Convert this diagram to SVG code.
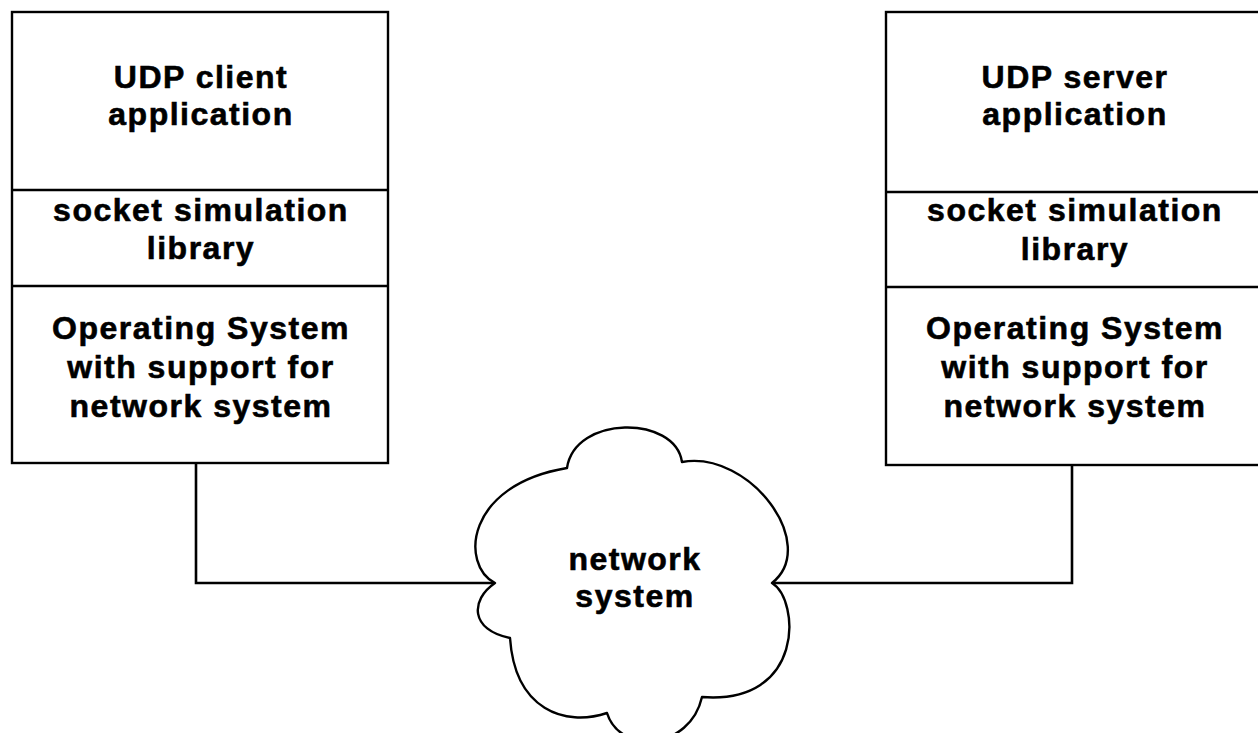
<svg xmlns="http://www.w3.org/2000/svg" width="1258" height="733" viewBox="0 0 1258 733">
  <style>
    .box { fill: #fff; stroke: #000; stroke-width: 2.4; }
    .div { stroke: #000; stroke-width: 2.4; fill: none; }
    .conn { stroke: #000; stroke-width: 2.6; fill: none; }
    .cloud { fill: #fff; stroke: #000; stroke-width: 2.4; stroke-linejoin: round; }
    text { font-family: "Liberation Sans", Arial, Helvetica, sans-serif; font-weight: bold; font-size: 32px; letter-spacing: 1.5px; text-anchor: middle; fill: #000; stroke: #000; stroke-width: 0.6; }
  </style>
  <rect width="1258" height="733" fill="#fff"/>

  <g id="connectors">
    <polyline class="conn" points="196,463 196,583 495,583"/>
    <polyline class="conn" points="1072,465 1072,583 772,583"/>
  </g>

  <g id="client">
    <rect class="box" x="12" y="12" width="376" height="451"/>
    <line class="div" x1="12" y1="190" x2="388" y2="190"/>
    <line class="div" x1="12" y1="286" x2="388" y2="286"/>
    <text x="201" y="88">UDP client</text>
    <text x="201" y="125">application</text>
    <text x="201" y="221">socket simulation</text>
    <text x="201" y="259">library</text>
    <text x="201" y="339">Operating System</text>
    <text x="201" y="378">with support for</text>
    <text x="201" y="417">network system</text>
  </g>

  <g id="server">
    <rect class="box" x="886" y="12" width="376" height="453"/>
    <line class="div" x1="886" y1="192" x2="1262" y2="192"/>
    <line class="div" x1="886" y1="287" x2="1262" y2="287"/>
    <text x="1075" y="88">UDP server</text>
    <text x="1075" y="125">application</text>
    <text x="1075" y="221">socket simulation</text>
    <text x="1075" y="260">library</text>
    <text x="1075" y="339">Operating System</text>
    <text x="1075" y="378">with support for</text>
    <text x="1075" y="417">network system</text>
  </g>

  <g id="network">
    <path class="cloud" d="M495,583 C460,565 465,485 567,468 C575,415 675,415 682,462 C750,450 820,545 772,583 C800,600 805,705 702,697 C690,750 620,755 607,713 C565,727 515,710 510,638 C470,630 470,600 495,583 Z"/>
    <text x="635" y="570">network</text>
    <text x="635" y="607">system</text>
  </g>
</svg>
